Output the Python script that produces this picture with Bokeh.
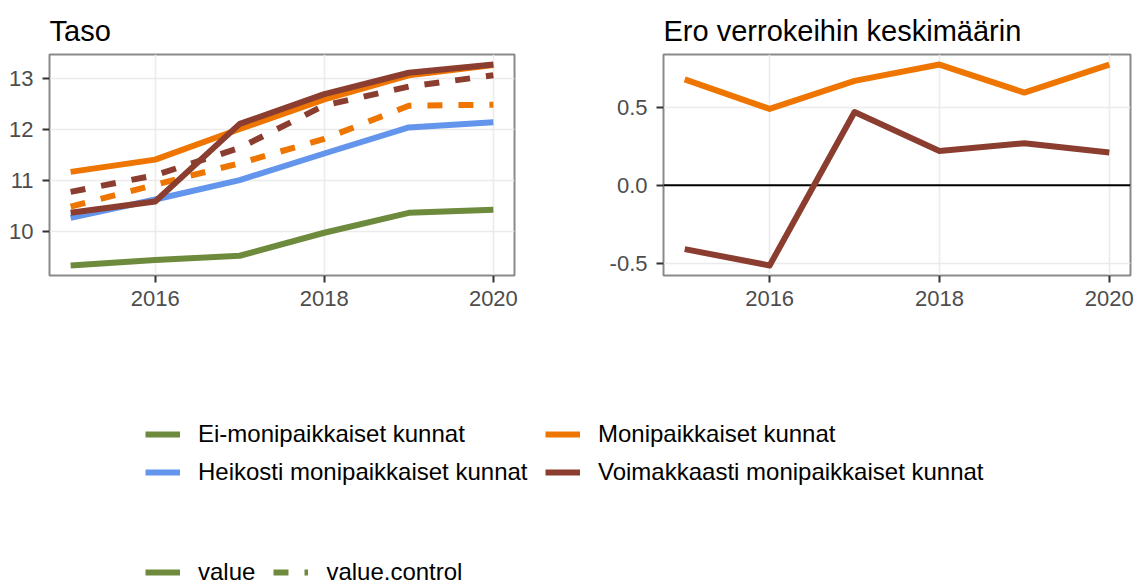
from bokeh.plotting import figure
from bokeh.models import (Range1d, FixedTicker, NumeralTickFormatter, Span,
                          Legend, LegendItem)
from bokeh.layouts import column, row
from bokeh.embed import file_html
from bokeh.resources import INLINE

# ---------------- data ----------------
years = [2015, 2016, 2017, 2018, 2019, 2020]

ei_moni = [9.34, 9.445, 9.53, 9.98, 10.37, 10.43]
heikosti = [10.27, 10.63, 11.01, 11.53, 12.04, 12.14]
moni = [11.17, 11.41, 12.01, 12.59, 13.06, 13.26]
moni_control = [10.49, 10.92, 11.34, 11.815, 12.465, 12.485]
voima = [10.37, 10.59, 12.11, 12.69, 13.11, 13.27]
voima_control = [10.78, 11.105, 11.64, 12.47, 12.84, 13.06]

moni_diff = [0.68, 0.49, 0.67, 0.775, 0.595, 0.775]
voima_diff = [-0.41, -0.515, 0.47, 0.22, 0.27, 0.21]

x_ticks = [2016, 2018, 2020]
left_y_ticks = [10, 11, 12, 13]
right_y_ticks = [-0.5, 0.0, 0.5]

labels = ["Ei-monipaikkaiset kunnat", "Heikosti monipaikkaiset kunnat",
          "Monipaikkaiset kunnat", "Voimakkaasti monipaikkaiset kunnat"]
type_labels = ["value", "value.control"]
titles = ["Taso", "Ero verrokeihin keskimäärin"]

# ---------------- styling ----------------
GREEN = "#6E8B3D"
BLUE = "#6495ED"
ORANGE = "#EE7600"
BROWN = "#8B3E2F"
FONT = "Liberation Sans"
LW = 6
DASH = "15 16"


def expand(lo, hi, f=0.05):
    d = (hi - lo) * f
    return lo - d, hi + d


def style(p):
    p.outline_line_color = "#8A8A8A"
    p.outline_line_width = 2
    for g in (p.xgrid, p.ygrid):
        g.grid_line_color = "#EBEBEB"
        g.grid_line_width = 1.6
    for ax in p.axis:
        ax.axis_line_color = None
        ax.major_tick_line_color = "#333333"
        ax.major_tick_line_width = 2
        ax.major_tick_out = 7
        ax.major_tick_in = 0
        ax.minor_tick_line_color = None
        ax.major_label_text_font = FONT
        ax.major_label_text_font_size = "22px"
        ax.major_label_text_color = "#4D4D4D"
    p.xaxis.major_label_standoff = 8
    p.yaxis.major_label_standoff = 9
    p.xaxis.ticker = FixedTicker(ticks=x_ticks)
    p.xaxis.formatter = NumeralTickFormatter(format="0")
    p.title.text_font = FONT
    p.title.text_font_size = "29px"
    p.title.text_font_style = "normal"
    p.title.text_color = "black"
    p.title.align = "left"
    p.title.vertical_align = "top"
    p.title.standoff = 12


xr = expand(min(years), max(years))
all_left = ei_moni + heikosti + moni + moni_control + voima + voima_control
yr1 = expand(min(all_left), max(all_left))
yr2 = expand(min(moni_diff + voima_diff), max(moni_diff + voima_diff))

p1 = figure(width=592, height=320, title=titles[0],
            x_range=Range1d(*xr), y_range=Range1d(*yr1),
            output_backend="svg", toolbar_location=None,
            min_border_left=49, min_border_right=78,
            min_border_top=54, min_border_bottom=45)
style(p1)
p1.yaxis.ticker = FixedTicker(ticks=left_y_ticks)
p1.yaxis.formatter = NumeralTickFormatter(format="0")

common = dict(line_width=LW, line_join="round", line_cap="butt")
p1.line(years, moni_control, line_color=ORANGE, line_dash=DASH, **common)
p1.line(years, voima_control, line_color=BROWN, line_dash=DASH, **common)
p1.line(years, ei_moni, line_color=GREEN, **common)
p1.line(years, heikosti, line_color=BLUE, **common)
p1.line(years, moni, line_color=ORANGE, **common)
p1.line(years, voima, line_color=BROWN, **common)

p2 = figure(width=549, height=320, title=titles[1],
            x_range=Range1d(*xr), y_range=Range1d(*yr2),
            output_backend="svg", toolbar_location=None,
            min_border_left=71, min_border_right=11,
            min_border_top=54, min_border_bottom=45)
style(p2)
p2.yaxis.ticker = FixedTicker(ticks=right_y_ticks)
p2.yaxis.formatter = NumeralTickFormatter(format="0.0")
p2.add_layout(Span(location=0, dimension="width", line_color="black",
                   line_width=1.8, level="underlay"))
p2.line(years, moni_diff, line_color=ORANGE, **common)
p2.line(years, voima_diff, line_color=BROWN, **common)

# ---------------- legend panel ----------------
p3 = figure(width=1141, height=266, x_range=Range1d(0, 1), y_range=Range1d(0, 1),
            x_axis_location=None, y_axis_location=None,
            output_backend="svg", toolbar_location=None, min_border=0)
p3.outline_line_color = None
p3.grid.visible = False

r_ei = p3.line(years, ei_moni, line_color=GREEN, **common)
r_hei = p3.line(years, heikosti, line_color=BLUE, **common)
r_moni = p3.line(years, moni, line_color=ORANGE, **common)
r_voima = p3.line(years, voima, line_color=BROWN, **common)
r_val = p3.line(years, ei_moni, line_color=GREEN, **common)
r_ctrl = p3.line(years, ei_moni, line_color=GREEN, line_dash=DASH, **common)

leg_style = dict(glyph_width=35, glyph_height=28, label_height=28,
                 label_standoff=18, padding=0, margin=0,
                 border_line_color=None, background_fill_alpha=0,
                 label_text_font=FONT, label_text_font_size="24px",
                 label_text_color="black")

leg1 = Legend(items=[LegendItem(label=labels[0], renderers=[r_ei]),
                     LegendItem(label=labels[1], renderers=[r_hei])],
              location=(145, 100), orientation="vertical", spacing=10, **leg_style)
leg2 = Legend(items=[LegendItem(label=labels[2], renderers=[r_moni]),
                     LegendItem(label=labels[3], renderers=[r_voima])],
              location=(545, 100), orientation="vertical", spacing=10, **leg_style)
leg3 = Legend(items=[LegendItem(label=type_labels[0], renderers=[r_val]),
                     LegendItem(label=type_labels[1], renderers=[r_ctrl])],
              location=(145, 0), orientation="horizontal", spacing=18, **leg_style)
for lg in (leg1, leg2, leg3):
    p3.add_layout(lg)

layout = column(row(p1, p2), p3)
open("out.html", "w").write(file_html(layout, INLINE))
